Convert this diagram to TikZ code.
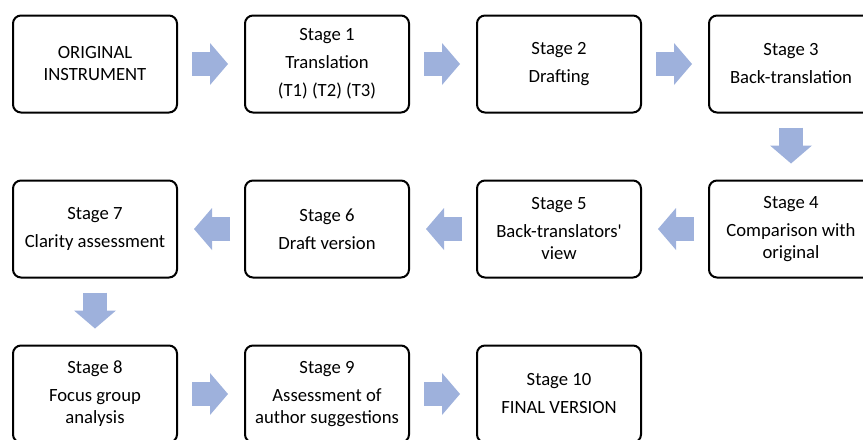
\documentclass[tikz,border=0pt]{standalone}
\usepackage{fontspec}
\setmainfont{Carlito}
\usetikzlibrary{arrows.meta}
\definecolor{flowblue}{RGB}{158,177,220}

\begin{document}
\begin{tikzpicture}[x=0.75pt,y=-0.75pt]
    \tikzset{%
      stage/.style={draw, rounded corners=6pt, line width=1.5pt,
        minimum width=123pt, minimum height=72.75pt, inner sep=2pt,
        align=center, font=\fontsize{14pt}{16.5pt}\selectfont},
      flow/.style={flowblue, line width=18pt, shorten <=10.5pt,
        shorten >=12pt,
        -{Triangle[length=13.5pt,width=31.5pt,line width=0pt]}},
    }
    \useasboundingbox (0,0) rectangle (863,439);
    \clip (0,0) rectangle (863,439);
%row 1
    \node[stage] (S0) at (95,64) {ORIGINAL\\INSTRUMENT};
    \node[stage] (S1) at (327,64) {Stage 1\\[4.5pt]Translation\\[4.5pt](T1) (T2) (T3)};
    \node[stage] (S2) at (559,64) {Stage 2\\[4.5pt]Drafting};
    \node[stage] (S3) at (791,64) {Stage 3\\[4.5pt]Back-translation};
%row 2
    \node[stage] (S4) at (791,229) {Stage 4\\[4.5pt]Comparison with\\original};
    \node[stage] (S5) at (559,229) {Stage 5\\[4.5pt]Back-translators\textquotesingle\\view};
    \node[stage] (S6) at (327,229) {Stage 6\\[4.5pt]Draft version};
    \node[stage] (S7) at (95,229) {Stage 7\\[4.5pt]Clarity assessment};
%row 3
    \node[stage] (S8) at (95,394) {Stage 8\\[4.5pt]Focus group\\analysis};
    \node[stage] (S9) at (327,394) {Stage 9\\[4.5pt]Assessment of\\author suggestions};
    \node[stage] (S10) at (559,394) {Stage 10\\[4.5pt]FINAL VERSION};

    \draw [flow] (S0) -- (S1);
    \draw [flow] (S1) -- (S2);
    \draw [flow] (S2) -- (S3);
    \draw [flow] (S3) -- (S4);
    \draw [flow] (S4) -- (S5);
    \draw [flow] (S5) -- (S6);
    \draw [flow] (S6) -- (S7);
    \draw [flow] (S7) -- (S8);
    \draw [flow] (S8) -- (S9);
    \draw [flow] (S9) -- (S10);
  \end{tikzpicture}
\end{document}
